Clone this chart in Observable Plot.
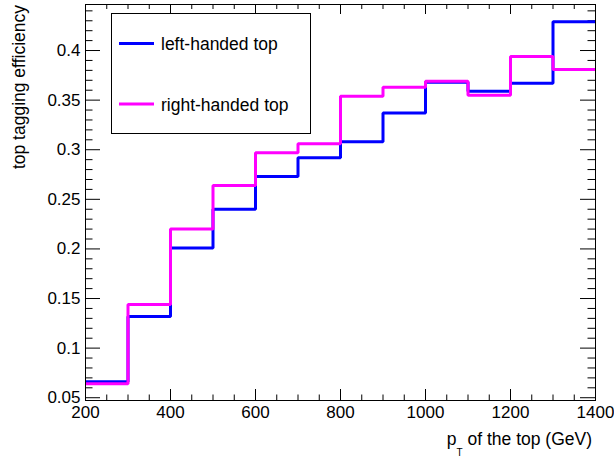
<!DOCTYPE html>
<html>
<head>
<meta charset="utf-8">
<script src="https://cdn.jsdelivr.net/npm/d3@7"></script>
<script src="https://cdn.jsdelivr.net/npm/@observablehq/plot@0.6"></script>
<style>
  html, body { margin: 0; padding: 0; background: #fff; }
  svg { display: block; }
</style>
</head>
<body>
<div id="chart"></div>
<script>
// ---- data ----
const binEdges = [200, 300, 400, 500, 600, 700, 800, 900, 1000, 1100, 1200, 1300, 1400];
const leftHanded  = [0.066, 0.132, 0.201, 0.240, 0.273, 0.292, 0.308, 0.337, 0.368, 0.359, 0.367, 0.429];
const rightHanded = [0.064, 0.144, 0.220, 0.264, 0.297, 0.306, 0.354, 0.363, 0.369, 0.355, 0.394, 0.381];
const seriesNames = ["left-handed top", "right-handed top"];
const seriesColors = ["#0000ff", "#ff00ff"];
const xMajorTicks = [200, 400, 600, 800, 1000, 1200, 1400];
const yMajorTicks = [0.05, 0.1, 0.15, 0.2, 0.25, 0.3, 0.35, 0.4];
const xTitle = ["p", "T", " of the top (GeV)"];
const yTitle = "top tagging efficiency";

// ---- layout ----
const W = 614, H = 459;
const mL = 85, mR = 19, mT = 4, mB = 59;
const fw = W - mL - mR, fh = H - mT - mB;
const xDom = [200, 1400], yDom = [0.0472, 0.4464];
const xPerPx = (xDom[1] - xDom[0]) / fw, yPerPx = (yDom[1] - yDom[0]) / fh;
const font = "'Liberation Sans', Arial, Helvetica, sans-serif";

const xMinorTicks = d3.range(250, 1400, 50).filter(v => !xMajorTicks.includes(v));
const yMinorTicks = d3.range(6, 45).map(i => i / 100).filter(v => v <= yDom[1] && !yMajorTicks.some(m => Math.abs(m - v) < 1e-9));

function steps(values, name) {
  return binEdges.map((x, i) => ({x, y: values[Math.min(i, values.length - 1)], series: name}));
}
const stepData = [...steps(leftHanded, seriesNames[0]), ...steps(rightHanded, seriesNames[1])];

const TC = "#000", TW = 1;
const svg = Plot.plot({
  width: W, height: H,
  marginLeft: mL, marginRight: mR, marginTop: mT, marginBottom: mB,
  style: {fontFamily: font, fontSize: "17px"},
  x: {domain: xDom, ticks: xMajorTicks, tickSize: 0, tickPadding: 5, tickFormat: d => String(d), label: null},
  y: {domain: yDom, ticks: yMajorTicks, tickSize: 0, tickPadding: 5, tickFormat: d => String(+d.toFixed(2)), label: null},
  color: {domain: seriesNames, range: seriesColors},
  marks: [
    // inward ticks: bottom, top, left, right
    Plot.ruleX(xMajorTicks, {x: d => d, y1: yDom[0], y2: yDom[0] + 11 * yPerPx, stroke: TC, strokeWidth: TW}),
    Plot.ruleX(xMinorTicks, {x: d => d, y1: yDom[0], y2: yDom[0] + 5.5 * yPerPx, stroke: TC, strokeWidth: TW}),
    Plot.ruleX(xMajorTicks, {x: d => d, y1: yDom[1], y2: yDom[1] - 10 * yPerPx, stroke: TC, strokeWidth: TW}),
    Plot.ruleX(xMinorTicks, {x: d => d, y1: yDom[1], y2: yDom[1] - 5 * yPerPx, stroke: TC, strokeWidth: TW}),
    Plot.ruleY(yMajorTicks, {y: d => d, x1: xDom[0], x2: xDom[0] + 15 * xPerPx, stroke: TC, strokeWidth: TW}),
    Plot.ruleY(yMinorTicks, {y: d => d, x1: xDom[0], x2: xDom[0] + 7.5 * xPerPx, stroke: TC, strokeWidth: TW}),
    Plot.ruleY(yMajorTicks, {y: d => d, x1: xDom[1], x2: xDom[1] - 15 * xPerPx, stroke: TC, strokeWidth: TW}),
    Plot.ruleY(yMinorTicks, {y: d => d, x1: xDom[1], x2: xDom[1] - 7.5 * xPerPx, stroke: TC, strokeWidth: TW}),
    Plot.line(stepData, {x: "x", y: "y", z: "series", stroke: "series", curve: "step-after",
      strokeWidth: 3, strokeLinejoin: "miter", strokeLinecap: "butt"}),
    Plot.frame({stroke: "black", strokeWidth: 1})
  ]
});

const s = d3.select(svg);

s.append("text")
  .attr("transform", "translate(25,5) rotate(-90)")
  .attr("text-anchor", "end")
  .attr("font-family", font)
  .attr("font-size", 17.5)
  .attr("fill", "#000")
  .text(yTitle);

const xtt = s.append("text")
  .attr("x", 592).attr("y", 445)
  .attr("text-anchor", "end")
  .attr("font-family", font)
  .attr("font-size", 17.5)
  .attr("fill", "#000");
xtt.append("tspan").text(xTitle[0]);
xtt.append("tspan").attr("font-size", 10).attr("dy", 11).text(xTitle[1]);
xtt.append("tspan").attr("dy", -11).text(xTitle[2]);

const lg = s.append("g");
lg.append("rect")
  .attr("x", 111.5).attr("y", 13.5).attr("width", 199).attr("height", 120)
  .attr("fill", "#fff").attr("stroke", "#000").attr("stroke-width", 1);
const rowsY = [43.5, 104];
seriesNames.forEach((name, i) => {
  lg.append("line")
    .attr("x1", 119).attr("x2", 154).attr("y1", rowsY[i]).attr("y2", rowsY[i])
    .attr("stroke", seriesColors[i]).attr("stroke-width", 3);
  lg.append("text")
    .attr("x", 161).attr("y", rowsY[i] + 6.5)
    .attr("text-anchor", "start")
    .attr("font-family", font).attr("font-size", 17.5).attr("fill", "#000")
    .text(name);
});

document.getElementById("chart").appendChild(svg);
</script>
</body>
</html>
